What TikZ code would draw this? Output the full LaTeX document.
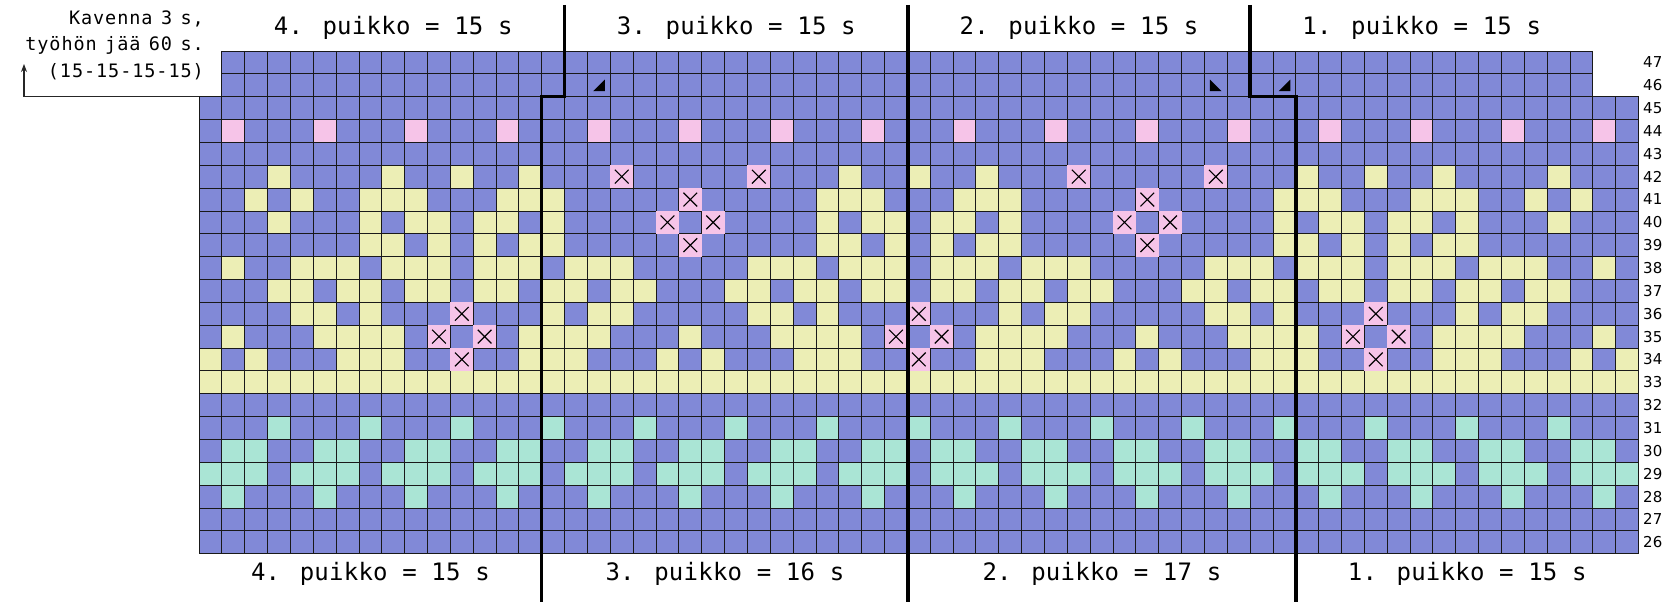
\documentclass[tikz,border=0pt]{standalone}
\usepackage{fontspec}
\setmainfont{DejaVu Sans Mono}
\newfontfamily\hdrfont[LetterSpace=1]{DejaVu Sans Mono}
\newfontfamily\lblfont[LetterSpace=5,WordSpace=0.7]{DejaVu Sans Mono}
\newfontfamily\numfont{DejaVu Sans}
\usetikzlibrary{arrows.meta}
\definecolor{cblue}{RGB}{129,137,215}
\definecolor{cyel}{RGB}{236,238,181}
\definecolor{cmint}{RGB}{170,229,213}
\definecolor{cpink}{RGB}{246,196,232}
\newcommand\rowfill[3]{\foreach \k in {#3} {\fill[#2] (\k-1,47-#1) rectangle ++(1,1);}}
\newcommand\rowx[2]{\foreach \k in {#2} {\fill[cpink] (\k-1,47-#1) rectangle ++(1,1);
  \draw[xmark] (\k-0.8,47-#1+0.2) -- (\k-0.2,47-#1+0.8) (\k-0.2,47-#1+0.2) -- (\k-0.8,47-#1+0.8);}}
\begin{document}
\begin{tikzpicture}[x=1pt,y=-1pt,
  hdr/.style={font=\hdrfont\fontsize{24}{28}\selectfont, anchor=base, inner sep=0pt},
  lbl/.style={font=\lblfont\fontsize{18.5}{22}\selectfont, anchor=base east, inner sep=0pt},
  rownum/.style={font=\numfont\fontsize{15}{18}\selectfont, anchor=west, inner sep=0pt},
  divider/.style={line width=3.4pt, line join=miter, black},
  gridline/.style={line width=0.9pt, black!90},
  xmark/.style={line width=1.1pt, black},
  tri/.style={fill=black},
  arrowline/.style={line width=1.2pt, black!85, -{Stealth[length=8pt,width=6pt]}}]
\useasboundingbox (0,0) rectangle (1671,602);
\fill[white] (0,0) rectangle (1671,602);
% ---------- chart ----------
\begin{scope}[shift={(199,51)}, x=22.85pt, y=-22.85pt]
  \fill[cblue] (0,2) rectangle (63,22);
  \fill[cblue] (1,0) rectangle (61,2);
  % row 44 pink dots
  \rowfill{44}{cpink}{2,6,...,62}
  % yellow motif
  \rowfill{42}{cyel}{4,9,12,15,29,32,35,49,52,55,60}
  \rowfill{41}{cyel}{3,5,8,9,10,14,15,16,28,29,30,34,35,36,48,49,50,54,55,56,59,61}
  \rowfill{40}{cyel}{4,8,10,11,13,14,16,28,30,31,33,34,36,48,50,51,53,54,56,60}
  \rowfill{39}{cyel}{8,9,11,13,15,16,28,29,31,33,35,36,48,49,51,53,55,56}
  \rowfill{38}{cyel}{2,5,6,7,9,10,11,13,14,15,17,18,19,25,26,27,29,30,31,33,34,35,37,38,39,45,46,47,49,50,51,53,54,55,57,58,59,62}
  \rowfill{37}{cyel}{4,5,7,8,10,11,13,14,16,17,19,20,24,25,27,28,30,31,33,34,36,37,39,40,44,45,47,48,50,51,53,54,56,57,59,60}
  \rowfill{36}{cyel}{5,6,8,16,18,19,25,26,28,36,38,39,45,46,48,56,58,59}
  \rowfill{35}{cyel}{2,6,7,8,9,15,16,17,18,22,26,27,28,29,35,36,37,38,42,46,47,48,49,55,56,57,58,62}
  \rowfill{34}{cyel}{1,3,7,8,9,15,16,17,21,23,27,28,29,35,36,37,41,43,47,48,49,55,56,57,61,63}
  \fill[cyel] (0,14) rectangle (63,15);
  % mint motif
  \rowfill{31}{cmint}{4,8,...,60}
  \rowfill{30}{cmint}{2,3,6,7,10,11,14,15,18,19,22,23,26,27,30,31,33,34,37,38,41,42,45,46,49,50,53,54,57,58,61,62}
  \fill[cmint] (0,18) rectangle (63,19);
  \rowfill{29}{cblue}{4,8,...,60}
  \rowfill{28}{cmint}{2,6,...,62}
  % grid
  \foreach \i in {0,...,63} \draw[gridline] (\i,2) -- (\i,22);
  \foreach \j in {2,...,22} \draw[gridline] (0,\j) -- (63,\j);
  \foreach \i in {1,...,61} \draw[gridline] (\i,0) -- (\i,2);
  \foreach \j in {0,1} \draw[gridline] (1,\j) -- (61,\j);
  % crossed stitches
  \rowx{42}{19,25,39,45}
  \rowx{41}{22,42}
  \rowx{40}{21,23,41,43}
  \rowx{39}{22,42}
  \rowx{36}{12,32,52}
  \rowx{35}{11,13,31,33,51,53}
  \rowx{34}{12,32,52}
  % decrease marks in row 46
  \fill[tri] (17.25,1.76) -- (17.76,1.76) -- (17.76,1.25) -- cycle;
  \fill[tri] (44.24,1.25) -- (44.24,1.76) -- (44.75,1.76) -- cycle;
  \fill[tri] (47.25,1.76) -- (47.76,1.76) -- (47.76,1.25) -- cycle;
\end{scope}
% ---------- needle dividers ----------
\coordinate (d1a) at (564.6,5);   \coordinate (d1b) at (564.6,96.7);
\coordinate (d1c) at (541.75,96.7); \coordinate (d1d) at (541.75,602);
\coordinate (d2a) at (908,5);     \coordinate (d2b) at (908,602);
\coordinate (d3a) at (1250.1,5);  \coordinate (d3b) at (1250.1,96.7);
\coordinate (d3c) at (1295.8,96.7); \coordinate (d3d) at (1295.8,602);
\draw[divider] (d1a) -- (d1b) -- (d1c) -- (d1d);
\draw[divider] (d2a) -- (d2b);
\draw[divider] (d3a) -- (d3b) -- (d3c) -- (d3d);
% ---------- headers ----------
\node[hdr] (t4) at (393.2,34.3) {4. puikko = 15 s};
\node[hdr] (t3) at (736.3,34.3) {3. puikko = 15 s};
\node[hdr] (t2) at (1079,34.3) {2. puikko = 15 s};
\node[hdr] (t1) at (1421.7,34.3) {1. puikko = 15 s};
\node[hdr] (b4) at (370.4,580) {4. puikko = 15 s};
\node[hdr] (b3) at (724.9,580) {3. puikko = 16 s};
\node[hdr] (b2) at (1101.9,580) {2. puikko = 17 s};
\node[hdr] (b1) at (1467.2,580) {1. puikko = 15 s};
% ---------- left note ----------
\node[lbl] (l1) at (204,25) {Kavenna 3 s,};
\node[lbl] (l2) at (204,51) {työhön jää 60 s.};
\node[lbl] (l3) at (204,77.5) {(15-15-15-15)};
\coordinate (acorner) at (199,96.7);
\coordinate (abend) at (24,96.7);
\coordinate (atip) at (24,64);
\draw[arrowline] (acorner) -- (abend) -- (atip);
% ---------- row numbers ----------
\foreach \r in {26,...,47} {
  \node[rownum] (r\r) at (1643,{51+(47-\r)*22.85+11.42}) {\r};
}
\end{tikzpicture}
\end{document}
